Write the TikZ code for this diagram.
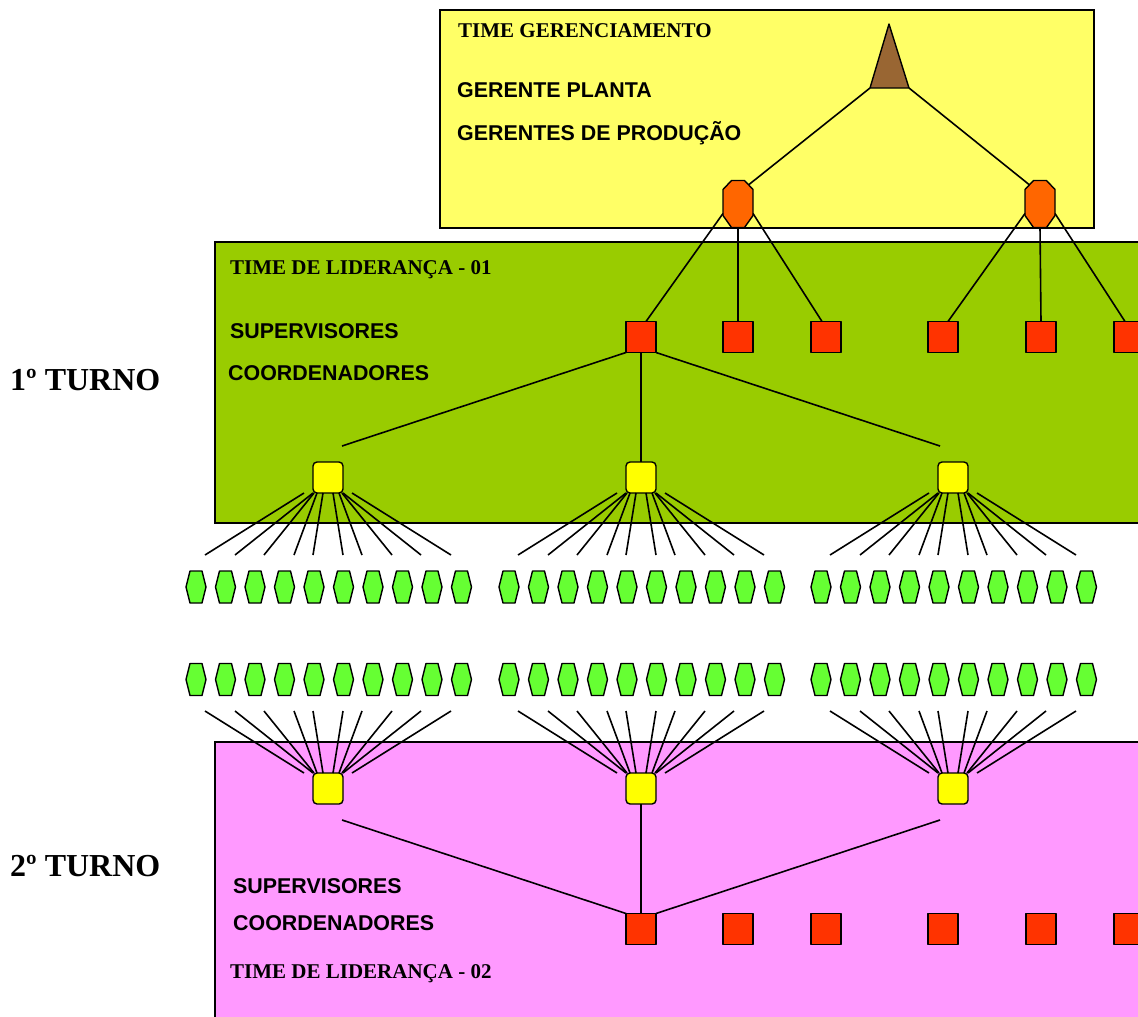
\documentclass[tikz,border=0pt]{standalone}
\usepackage{fontspec}
\setmainfont{Liberation Serif}
\setsansfont{Liberation Sans}
\usetikzlibrary{calc}

\definecolor{mgmtbg}{HTML}{FFFF66}
\definecolor{leadonebg}{HTML}{99CC00}
\definecolor{leadtwobg}{HTML}{FF99FF}
\definecolor{plantbrown}{HTML}{996633}
\definecolor{prodorange}{HTML}{FF6600}
\definecolor{supred}{HTML}{FF3300}
\definecolor{coordyellow}{HTML}{FFFF00}
\definecolor{opgreen}{HTML}{66FF33}

\tikzset{
  team/.style={draw=black, line width=2pt},
  link/.style={draw=black, line width=1.6pt},
  shapeline/.style={draw=black, line width=1.4pt, line join=round},
  supbox/.style={shapeline, fill=supred, minimum width=30pt, minimum height=31pt, inner sep=0pt, outer sep=0pt},
  coordbox/.style={shapeline, fill=coordyellow, rounded corners=4pt, minimum width=30pt, minimum height=31pt, inner sep=0pt, outer sep=0pt},
  octbox/.style={minimum width=30pt, minimum height=47pt, inner sep=0pt, outer sep=0pt},
  teamtitle/.style={font=\fontsize{21}{25}\selectfont\bfseries, anchor=base west, inner sep=0pt},
  rolelabel/.style={font=\sffamily\fontsize{21.4}{25}\selectfont\bfseries, anchor=base west, inner sep=0pt},
  shiftlabel/.style={font=\fontsize{32}{38}\selectfont\bfseries, anchor=base west, inner sep=0pt},
}

% production manager: octagon drawn round a named box
\newcommand\prodmanager[3]{%
  \node[octbox] (#1) at (#2,#3) {};
  \filldraw[shapeline, fill=prodorange]
    ([xshift=-6.5pt]#1.north) -- ([xshift=6.5pt]#1.north) --
    ([yshift=-9pt]#1.north east) -- ([yshift=12pt]#1.south east) --
    ([xshift=6.5pt]#1.south) -- ([xshift=-6.5pt]#1.south) --
    ([yshift=12pt]#1.south west) -- ([yshift=-9pt]#1.north west) -- cycle;}

% operator: tall hexagon
\newcommand\operatorcell[2]{%
  \filldraw[shapeline, fill=opgreen]
    (#1-10,#2) -- (#1-6,#2-16) -- (#1+6,#2-16) --
    (#1+10,#2) -- (#1+6,#2+16) -- (#1-6,#2+16) -- cycle;}

\begin{document}
\begin{tikzpicture}[x=1pt,y=-1pt]
\useasboundingbox (0,0) rectangle (1138,1017);
\clip (0,0) rectangle (1138,1017);

% team panels
\path[team, fill=mgmtbg] (440,10) rectangle (1094,228);
\path[team, fill=leadonebg] (215,242) rectangle (1160,523);
\path[team, fill=leadtwobg] (215,742) rectangle (1160,1040);

% labels
\node[teamtitle] (tmgmt) at (458,37) {TIME GERENCIAMENTO};
\node[rolelabel] (lplant) at (457,97) {GERENTE PLANTA};
\node[rolelabel] (lprod) at (457,140) {GERENTES DE PRODUÇÃO};
\node[teamtitle] (tleadone) at (230,274) {TIME DE LIDERANÇA - 01};
\node[rolelabel] (lsupone) at (230,338) {SUPERVISORES};
\node[rolelabel] (lcoordone) at (228,380) {COORDENADORES};
\node[shiftlabel] (turnone) at (10,390) {1º TURNO};
\node[shiftlabel] (turntwo) at (10,876) {2º TURNO};
\node[rolelabel] (lsuptwo) at (233,893) {SUPERVISORES};
\node[rolelabel] (lcoordtwo) at (233,930) {COORDENADORES};
\node[teamtitle] (tleadtwo) at (230,978) {TIME DE LIDERANÇA - 02};

% plant manager
\coordinate (plantTop) at (889,24);
\coordinate (plantL) at (870,88);
\coordinate (plantR) at (909,88);
\filldraw[shapeline, fill=plantbrown] (plantTop) -- (plantR) -- (plantL) -- cycle;

% production managers
\prodmanager{pmL}{738}{204}
\prodmanager{pmR}{1040}{204}

% supervisors of both shifts
\foreach \n/\x in {1/641,2/738,3/826,4/943,5/1041,6/1129} {
  \node[supbox] (sa\n) at (\x,337) {};
  \node[supbox] (sb\n) at (\x,929) {};
}

% coordinators of both shifts
\foreach \n/\x in {1/328,2/641,3/953} {
  \node[coordbox] (ca\n) at (\x,477.5) {};
  \node[coordbox] (cb\n) at (\x,788.5) {};
}

% management links
\draw[link] (plantL) -- ([xshift=11pt,yshift=-4pt]pmL.north);
\draw[link] (plantR) -- ([xshift=-11pt,yshift=-4pt]pmR.north);
\draw[link] ([yshift=14pt]pmL.south west) -- ([xshift=5pt]sa1.north);
\draw[link] (pmL.south) -- (sa2.north);
\draw[link] ([yshift=14pt]pmL.south east) -- ([xshift=-4pt]sa3.north);
\draw[link] ([yshift=14pt]pmR.south west) -- ([xshift=5pt]sa4.north);
\draw[link] (pmR.south) -- (sa5.north);
\draw[link] ([yshift=14pt]pmR.south east) -- ([xshift=-4pt]sa6.north);

% supervisor to coordinators, first shift
\coordinate (ka1) at ([xshift=14pt,yshift=16pt]ca1.north);
\coordinate (ka3) at ([xshift=-13pt,yshift=16pt]ca3.north);
\draw[link] (sa1.south west) -- (ka1);
\draw[link] (sa1.south) -- (ca2.north);
\draw[link] (sa1.south east) -- (ka3);

% coordinators to supervisor, second shift
\coordinate (kb1) at ([xshift=14pt,yshift=-16pt]cb1.south);
\coordinate (kb3) at ([xshift=-13pt,yshift=-16pt]cb3.south);
\draw[link] (kb1) -- (sb1.north west);
\draw[link] (cb2.south) -- (sb1.north);
\draw[link] (kb3) -- (sb1.north east);

% operator fans and operator rows
\foreach \g/\cx in {1/328,2/641,3/953} {
  \foreach \s/\e [count=\i] in {-24/-123,-15/-93,-14/-64,-11/-34,-5/-15,5/15,11/34,14/64,15/93,24/123} {
    \coordinate (fa\g-\i) at (\cx+\e,555);
    \coordinate (fb\g-\i) at (\cx+\e,711);
    \draw[link] ([xshift=\s pt]ca\g.south) -- (fa\g-\i);
    \draw[link] ([xshift=\s pt]cb\g.north) -- (fb\g-\i);
  }
  \foreach \k in {0,...,9} {
    \pgfmathsetmacro\hx{\cx-132+29.5*\k}
    \operatorcell{\hx}{587}
    \operatorcell{\hx}{679.5}
  }
}
\end{tikzpicture}
\end{document}
